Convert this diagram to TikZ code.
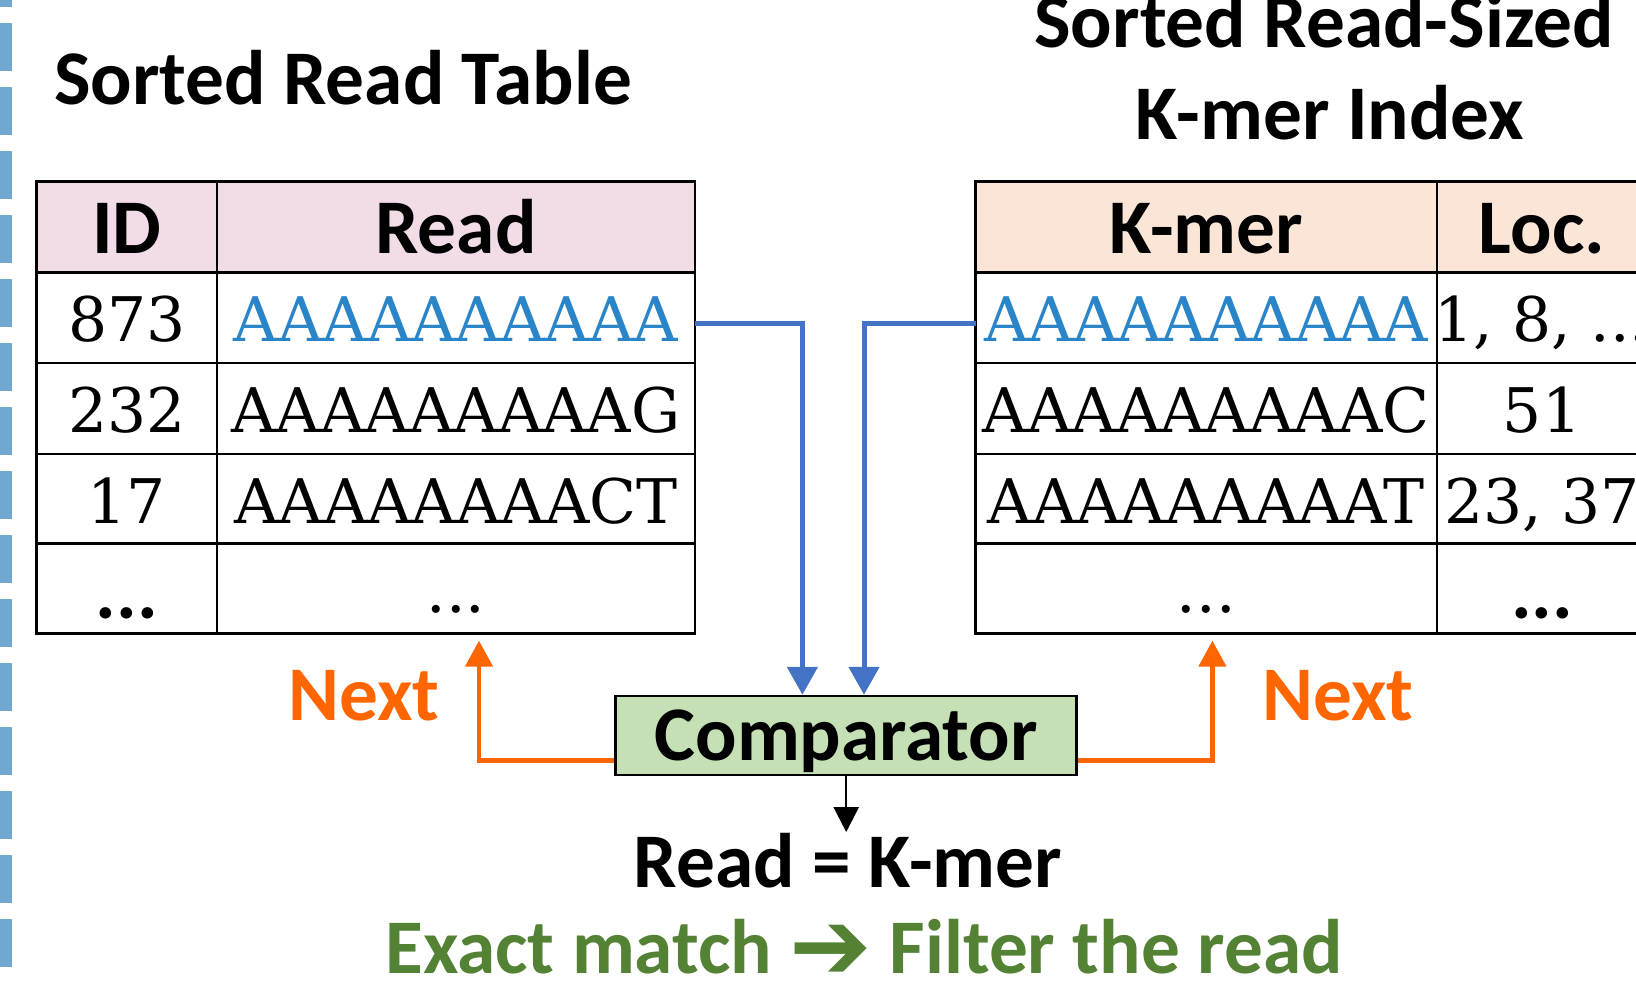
\documentclass[tikz,border=0pt]{standalone}
\usepackage{fontspec}
\usetikzlibrary{arrows.meta,positioning}

\newfontfamily\headfont{Carlito}
\newfontfamily\cellfont{DejaVu Serif}
\newfontfamily\symfont{DejaVu Sans}

\definecolor{edgeblue}{RGB}{111,168,208}
\definecolor{readpink}{RGB}{242,220,232}
\definecolor{kmerpeach}{RGB}{251,229,214}
\definecolor{dnablue}{RGB}{41,132,200}
\definecolor{arrowblue}{RGB}{68,114,196}
\definecolor{cmpgreen}{RGB}{197,224,180}
\definecolor{nextorange}{RGB}{255,102,0}
\definecolor{matchgreen}{RGB}{84,130,53}

\begin{document}
\begin{tikzpicture}[
    x=0.1mm, y=-0.1mm,
    head text/.style={font=\headfont\bfseries\fontsize{22}{26}\selectfont, inner sep=0pt, anchor=base},
    cell text/.style={font=\cellfont\fontsize{17.5}{21}\selectfont, inner sep=0pt, anchor=base},
    grid line/.style={line width=0.25mm},
    blue arrow/.style={-{Triangle[width=3mm, length=2.8mm]}, line width=0.5mm, color=arrowblue},
    next arrow/.style={-{Triangle[width=2.7mm, length=2.6mm]}, line width=0.45mm, color=nextorange},
]
\useasboundingbox (0,0) rectangle (1636,982);
\clip (0,0) rectangle (1636,982);

% Dashed border on the left
\draw[line width=1.2mm, color=edgeblue, dash pattern=on 4.8mm off 1.6mm] (6,-41) -- (6,1000);

% Titles
\node[head text] (titleL) at (343,104) {Sorted Read Table};
\node[head text] (titleRa) at (1324,47) {Sorted Read-Sized};
\node[head text] (titleRb) at (1330,139) {K-mer Index};

% Sorted read table
\fill[readpink] (36.5,181.5) rectangle (695,272.3);
\draw[grid line] (36.5,181.5) rectangle (695,633.3);
\foreach \y in {272.3,363.1,453.9,543.6}
    \draw[grid line] (36.5,\y) -- (695,\y);
\draw[grid line] (217,181.5) -- (217,633.3);

\node[head text] (hID) at (126.7,253.5) {ID};
\node[head text] (hRead) at (456,253.5) {Read};
\node[cell text] (id1) at (126.7,341.5) {873};
\node[cell text, text=dnablue] (rd1) at (456,341.5) {AAAAAAAAAA};
\node[cell text] (id2) at (126.7,432.5) {232};
\node[cell text] (rd2) at (456,432.5) {AAAAAAAAAG};
\node[cell text] (id3) at (126.7,523.5) {17};
\node[cell text] (rd3) at (456,523.5) {AAAAAAAACT};
\node[head text] (id4) at (126.7,618) {...};
\node[cell text] (rd4) at (456,612) {...};

% Sorted read-sized k-mer index
\fill[kmerpeach] (975.6,181.5) rectangle (1648,272.3);
\draw[grid line] (975.6,181.5) rectangle (1648,633.3);
\foreach \y in {272.3,363.1,453.9,543.6}
    \draw[grid line] (975.6,\y) -- (1648,\y);
\draw[grid line] (1437,181.5) -- (1437,633.3);

\node[head text] (hKmer) at (1206.3,253.5) {K-mer};
\node[head text] (hLoc) at (1542,253.5) {Loc.};
\node[cell text, text=dnablue] (km1) at (1206.3,341.5) {AAAAAAAAAA};
\node[cell text] (loc1) at (1542,341.5) {1, 8, ...};
\node[cell text] (km2) at (1206.3,432.5) {AAAAAAAAAC};
\node[cell text] (loc2) at (1542,432.5) {51};
\node[cell text] (km3) at (1206.3,523.5) {AAAAAAAAAT};
\node[cell text] (loc3) at (1542,523.5) {23, 37};
\node[cell text] (km4) at (1206.3,612) {...};
\node[head text] (loc4) at (1542,618) {...};

% Comparator
\node[draw, line width=0.25mm, fill=cmpgreen, minimum width=46.1mm, minimum height=7.9mm,
      inner sep=0pt, text height=4.9mm, text depth=0pt,
      font=\headfont\bfseries\fontsize{22}{26}\selectfont] (cmp) at (846.2,735.5) {Comparator};

\coordinate (rowL) at (695,323.5);
\coordinate (rowR) at (975.6,323.5);
\coordinate (tapL) at (802.4,0);
\coordinate (tapR) at (864,0);
\draw[blue arrow] (rowL) -| (tapL |- cmp.north);
\draw[blue arrow] (rowR) -| (tapR |- cmp.north);

% Next pointers
\coordinate (nextL) at (479,640.6);
\coordinate (nextR) at (1212.4,640.6);
\draw[next arrow] ([yshift=-2.51mm]cmp.west) -| (nextL);
\draw[next arrow] ([yshift=-2.51mm]cmp.east) -| (nextR);
\node[head text, text=nextorange] (nextTxtL) at (364,720) {Next};
\node[head text, text=nextorange] (nextTxtR) at (1338,720) {Next};

% Result
\node[head text] (match) at (848,887) {Read = K-mer};
\draw[-{Triangle[width=2.5mm, length=2.5mm]}, line width=0.25mm] (cmp.south) -- (cmp.south |- match.north);
\node[head text, text=matchgreen] (result) at (864,973.5) {Exact match {\symfont\fontsize{28}{30}\selectfont\raisebox{-0.6mm}{➔}} Filter the read};

\end{tikzpicture}
\end{document}
